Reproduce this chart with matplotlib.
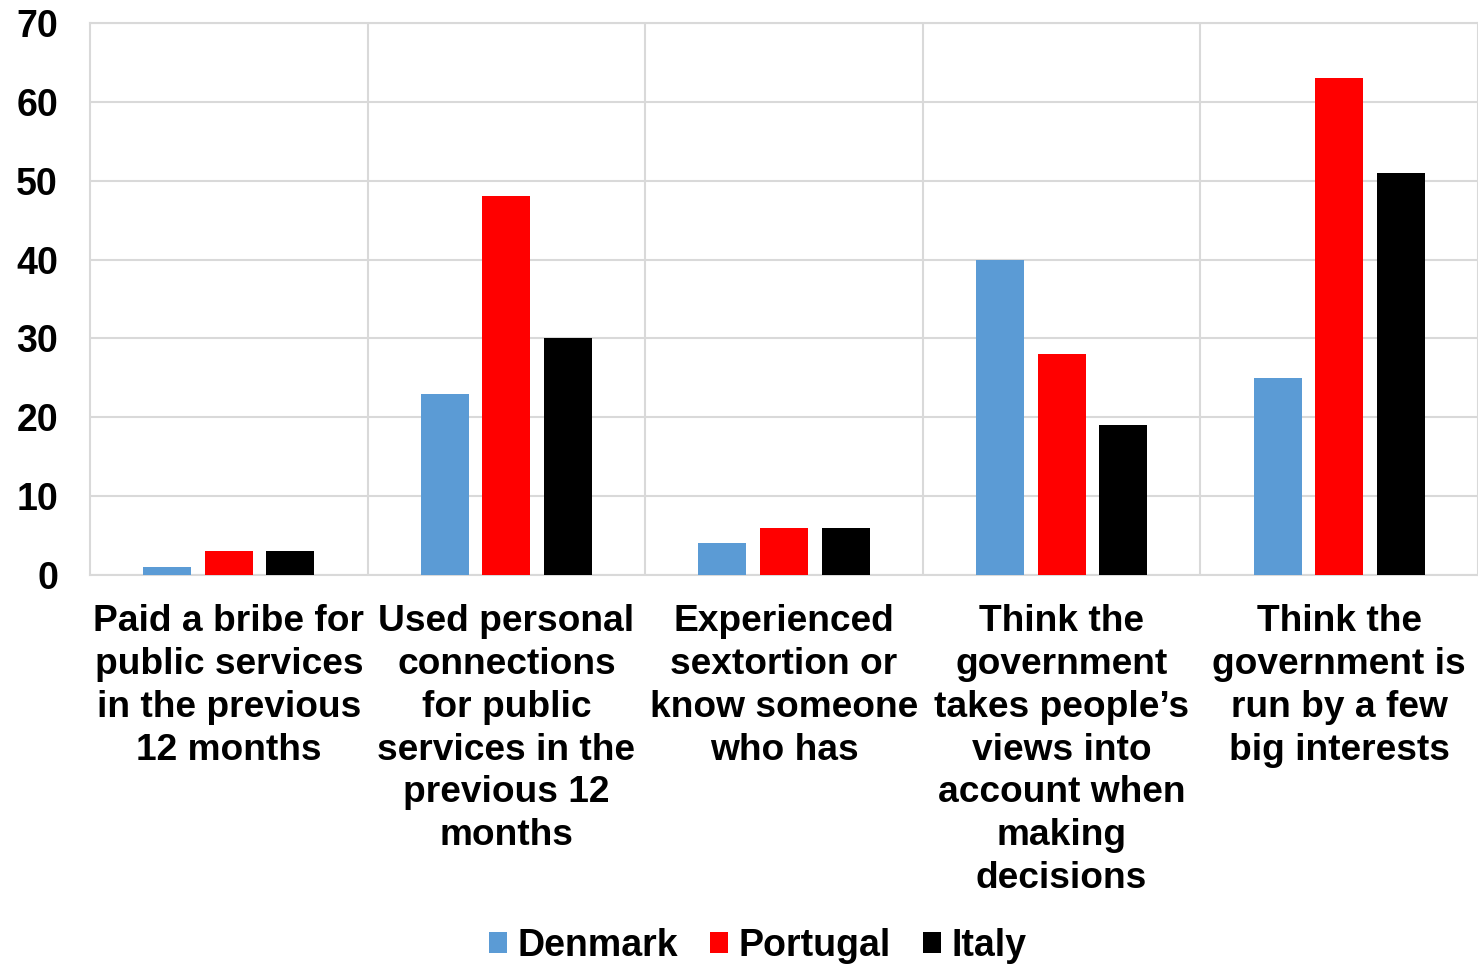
import matplotlib
matplotlib.use("Agg")
import matplotlib.pyplot as plt
import numpy as np

categories = [
    "Paid a bribe for\npublic services\nin the previous\n12 months",
    "Used personal\nconnections\nfor public\nservices in the\nprevious 12\nmonths",
    "Experienced\nsextortion or\nknow someone\nwho has",
    "Think the\ngovernment\ntakes people\u2019s\nviews into\naccount when\nmaking\ndecisions",
    "Think the\ngovernment is\nrun by a few\nbig interests",
]
series_names = ["Denmark", "Portugal", "Italy"]
denmark = [1, 23, 4, 40, 25]
portugal = [3, 48, 6, 28, 63]
italy = [3, 30, 6, 19, 51]
yticks = [0, 10, 20, 30, 40, 50, 60, 70]
colors = ["#5b9bd5", "#ff0000", "#000000"]

plt.rcParams['font.family'] = ['Liberation Sans', 'DejaVu Sans']
plt.rcParams['font.weight'] = 'bold'

fig = plt.figure(figsize=(14.78, 9.65), dpi=100)
ax = fig.add_axes([90/1478, 1-575/965, (1478-90)/1478, (575-23)/965])

x = np.arange(len(categories))
width = 0.173
offset = 0.222
for i, (vals, name) in enumerate(zip([denmark, portugal, italy], series_names)):
    ax.bar(x + (i-1)*offset, vals, width, color=colors[i], label=name, zorder=3)

ax.set_xlim(-0.5, len(categories)-0.5)
ax.set_ylim(0, 70)
ax.set_yticks(yticks)
ax.set_yticklabels([str(v) for v in yticks], fontsize=27, fontweight='bold')
ax.set_xticks(x)
ax.set_xticklabels(categories, fontsize=26.7, fontweight='bold', linespacing=1.29, va='top')
ax.tick_params(axis='both', length=0)
ax.tick_params(axis='x', pad=21)
ax.tick_params(axis='y', pad=23)
for lbl in ax.get_yticklabels():
    lbl.set_horizontalalignment('right')

ax.yaxis.grid(True, color='#d9d9d9', linewidth=1.5, zorder=0)
for b in np.arange(0.5, len(categories)-0.5, 1.0):
    ax.axvline(b, color='#d9d9d9', linewidth=1.5, zorder=0)
for s in ax.spines.values():
    s.set_color('#d9d9d9')
    s.set_linewidth(1.5)

leg = fig.legend(loc='center', bbox_to_anchor=(758/1478, 1-946/965), ncol=3,
                 frameon=False, fontsize=27, handlelength=0.48, handleheight=0.48,
                 handletextpad=0.28, columnspacing=0.85)

fig.savefig("out.png", dpi=100)
